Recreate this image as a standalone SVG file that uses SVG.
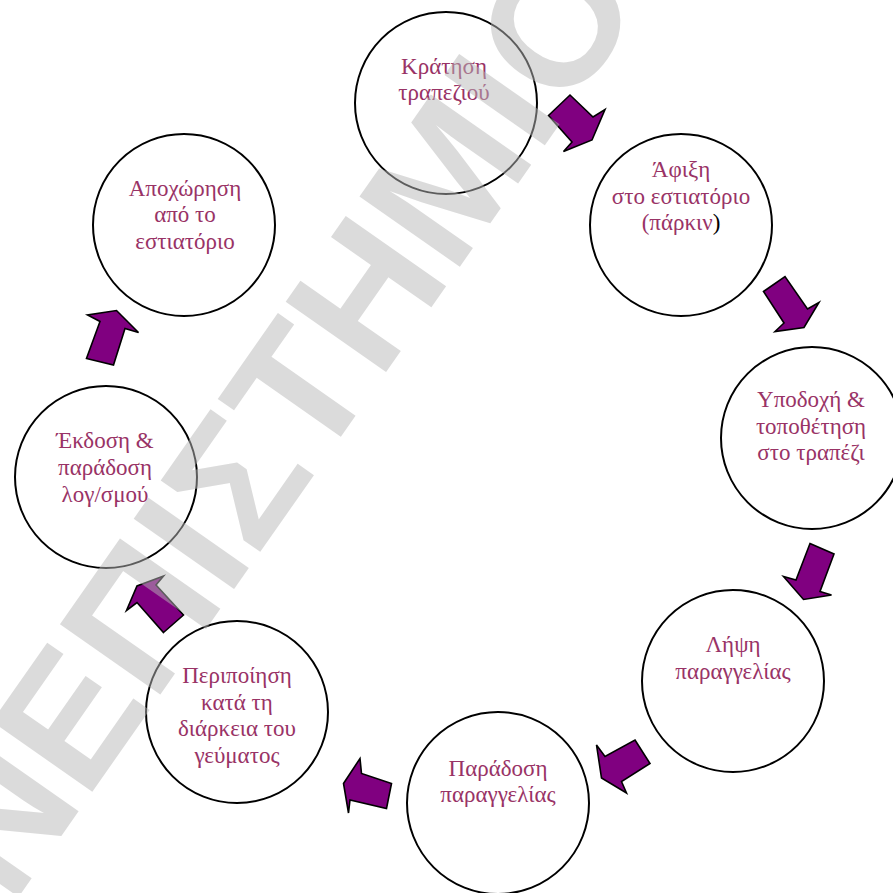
<svg xmlns="http://www.w3.org/2000/svg" width="893" height="893" viewBox="0 0 893 893">
<style>
.node circle{fill:#fff;stroke:#000;stroke-width:2}
.node text{font-family:"Liberation Serif","Times New Roman",serif;font-size:23px;fill:#993366;text-anchor:middle}
.arrow{fill:#800080;stroke:#000;stroke-width:1.6;stroke-linejoin:miter}
.wm{font-family:"Liberation Sans",Arial,sans-serif;font-size:178px;font-weight:bold;fill:#b8b8b8;opacity:0.5}
</style>
<rect width="893" height="893" fill="#fff"/>
<g id="connectors">
<polygon class="arrow" points="548.5,115.5 570,95 593,117 605,109.5 592,140 563.5,151.5 572,142"/>
<polygon class="arrow" points="763.5,291.5 785,276.5 807.5,309 819,302.5 804,327.5 775,331.5 784,323"/>
<polygon class="arrow" points="810,543.5 834,554 820,591.5 831.5,595 803.5,599.5 783.5,576.5 796,580"/>
<polygon class="arrow" points="635,740 650,763.5 621.5,781.5 626.5,793 601.5,778 596.5,745 605,756.5"/>
<polygon class="arrow" points="391.5,783.5 386.5,808.5 350,800 348.5,813 343.5,783.5 360,758.5 361.5,773.5"/>
<polygon class="arrow" points="163.5,632.5 183.5,615 156,585 163.5,576 137,586 126.5,610.5 137,602.5"/>
<polygon class="arrow" points="86.5,358.5 113.5,365 125,328.5 138.5,332.5 116.5,310.5 87.5,315 100,321.5"/>
</g>
<g id="n1" class="node"><circle cx="446" cy="103" r="91"/><text x="444" y="73.5">Κράτηση</text><text x="444" y="100">τραπεζιού</text></g>
<g id="n2" class="node"><circle cx="681" cy="225" r="91"/><text x="681" y="177">Άφιξη</text><text x="681" y="203.5">στο εστιατόριο</text><text x="681" y="230">(πάρκιν<tspan fill="#000">)</tspan></text></g>
<g id="n3" class="node"><circle cx="812" cy="438" r="91"/><text x="811" y="407">Υποδοχή &amp;</text><text x="811" y="433.5">τοποθέτηση</text><text x="811" y="460">στο τραπέζι</text></g>
<g id="n4" class="node"><circle cx="733" cy="681" r="91"/><text x="733" y="652">Λήψη</text><text x="733" y="679">παραγγελίας</text></g>
<g id="n5" class="node"><circle cx="498" cy="803" r="91"/><text x="498" y="775.5">Παράδοση</text><text x="498" y="802">παραγγελίας</text></g>
<g id="n6" class="node"><circle cx="237" cy="712" r="91"/><text x="237" y="683">Περιποίηση</text><text x="237" y="709.5">κατά τη</text><text x="237" y="736">διάρκεια του</text><text x="237" y="762.5">γεύματος</text></g>
<g id="n7" class="node"><circle cx="106" cy="477" r="91"/><text x="105" y="448">Έκδοση &amp;</text><text x="105" y="475">παράδοση</text><text x="105" y="501.5">λογ/σμού</text></g>
<g id="n8" class="node"><circle cx="184" cy="225" r="91"/><text x="185" y="195.5">Αποχώρηση</text><text x="185" y="222">από το</text><text x="185" y="248.5">εστιατόριο</text></g>
<text class="wm" transform="translate(-62,1012) rotate(-55)">ΑΝΕΠΙΣΤΗΜΙΟ</text>
</svg>
